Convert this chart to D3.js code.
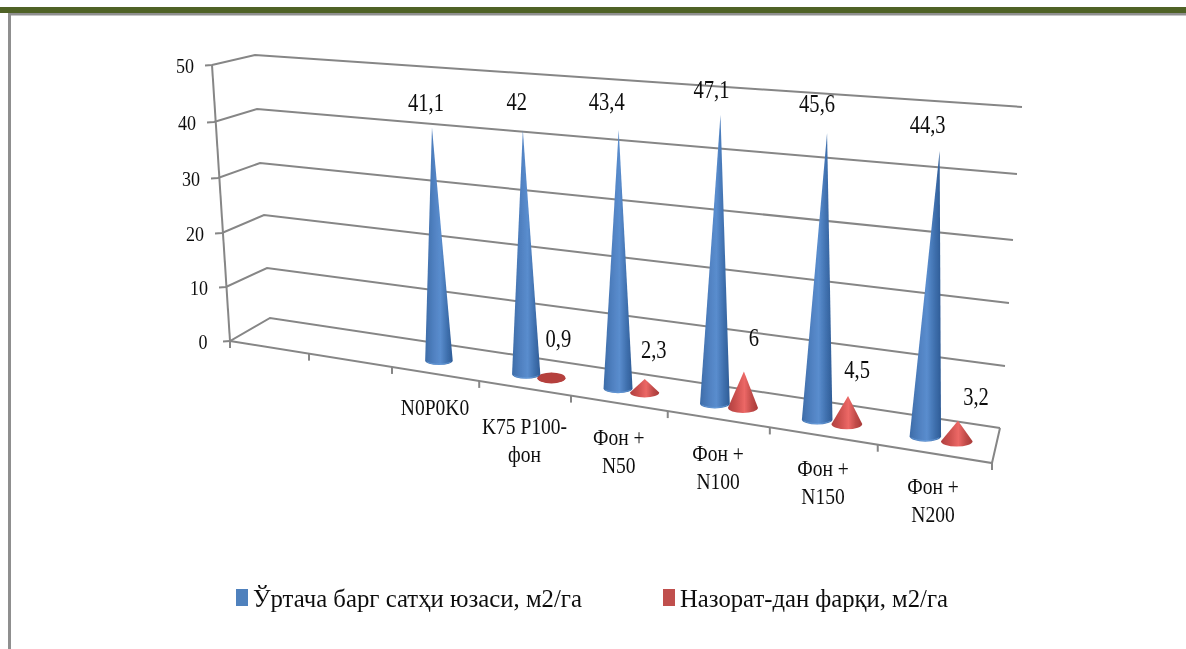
<!DOCTYPE html>
<html>
<head>
<meta charset="utf-8">
<script src="https://cdnjs.cloudflare.com/ajax/libs/d3/7.9.0/d3.min.js"></script>
<style>
html,body{margin:0;padding:0;background:#fff;overflow:hidden}
text{font-family:"Liberation Serif",serif;fill:#111}
</style>
</head>
<body>
<script>
// ---- data ----
const categories = ["", "", "N0P0K0", "K75 P100-|фон", "Фон +|N50", "Фон +|N100", "Фон +|N150", "Фон +|N200"];
const blueValues = [null, null, 41.1, 42, 43.4, 47.1, 45.6, 44.3];
const redValues  = [null, null, null, 0.9, 2.3, 6, 4.5, 3.2];
const yTicks = [0, 10, 20, 30, 40, 50];
const seriesNames = ["Ўртача барг сатҳи юзаси, м2/га", "Назорат-дан фарқи, м2/га"];
const fmt = v => String(v).replace(".", ",");

// ---- layout ----
const W = 1186, H = 649;
const svg = d3.select("body").append("svg").attr("width", W).attr("height", H).style("display","block");
const defs = svg.append("defs");
function grad(id, stops){
  const g = defs.append("linearGradient").attr("id", id).attr("x1","0%").attr("x2","100%").attr("y1","0%").attr("y2","0%");
  stops.forEach(s => g.append("stop").attr("offset", s[0]).attr("stop-color", s[1]));
}
grad("gBlue", [[0,"#3d6ca8"],[.3,"#4f80c0"],[.55,"#5a8dce"],[.8,"#3f70ae"],[1,"#2f5c96"]]);
grad("gRed",  [[0,"#b04040"],[.3,"#cf5250"],[.55,"#ec6866"],[.8,"#bf4a48"],[1,"#a83a38"]]);
defs.append("filter").attr("id","soft").append("feGaussianBlur").attr("stdDeviation",0.55);

// projection: value-edge scales for the chart box corners
const edge = r => d3.scaleLinear().domain(yTicks).range(r);
const backLeftX  = edge([270,267,264,260,257,255]);
const backLeftY  = edge([318,268,215,163,109,55]);
const backRightX = edge([1000,1005,1009,1013,1017,1022]);
const backRightY = edge([428,366,303,240,174,107]);
const frontLeftX = edge([230,226,222,218,214,212]);
const frontLeftY = edge([341,287,233,178,122,65]);
const frontRightX = d3.scaleLinear().domain([0,50]).range([992,1010]);
const frontRightY = d3.scaleLinear().domain([0,50]).range([463,128]);

const band = d3.scaleBand().domain(d3.range(categories.length)).range([0,1]);
const persp = u => u / (u + 1.2346 * (1 - u));   // foreshortening along the x axis
const lerp = d3.interpolateNumber;
function project(u, v, d){
  const t = persp(u);
  const fx = lerp(frontLeftX(v), frontRightX(v))(t), fy = lerp(frontLeftY(v), frontRightY(v))(t);
  const bx = lerp(backLeftX(v), backRightX(v))(t),  by = lerp(backLeftY(v), backRightY(v))(t);
  return [lerp(fx,bx)(d), lerp(fy,by)(d), t];
}
const line = d3.line();
const root = svg.append("g").attr("filter","url(#soft)");

// frame
root.append("rect").attr("x",0).attr("y",7).attr("width",W).attr("height",6).attr("fill","#4f6228");
root.append("rect").attr("x",8).attr("y",13).attr("width",W-8).attr("height",2.5).attr("fill","#8f8f8f");
root.append("rect").attr("x",8).attr("y",13).attr("width",3).attr("height",H-13).attr("fill","#8f8f8f");

// grid & axes
const gridC = "#868686";
const grid = root.append("g").attr("fill","none").attr("stroke",gridC).attr("stroke-width",2);
yTicks.forEach(v => {
  const a = project(0,v,0), b = project(0,v,1), c = project(1,v,1);
  grid.append("path").attr("d", line([[a[0]-7,a[1]+0.5],[a[0],a[1]],[b[0],b[1]],[c[0],c[1]]]));
});
grid.append("path").attr("d", line([project(0,50,0),project(0,0,0)].map(p=>p.slice(0,2))));
grid.append("path").attr("d", line([project(0,0,0),project(1,0,0),project(1,0,1)].map(p=>p.slice(0,2))));
d3.range(categories.length+1).forEach(i => {
  const p = project(i/categories.length,0,0);
  grid.append("path").attr("d", line([[p[0],p[1]],[p[0],p[1]+7]]));
});

// text helper: reference glyphs are horizontally condensed
function stext(g, x, y, str, size, sx){
  return g.append("text").attr("transform",`translate(${x},${y}) scale(${sx},1)`)
    .attr("text-anchor","middle").attr("dominant-baseline","central").attr("font-size",size).text(str);
}
yTicks.forEach(v => {
  const p = project(0,v,0);
  stext(root, p[0]-27, p[1], v, 22, 0.82);
});

// cones
const blueU = i => band(i) + band.bandwidth()*0.38;
const redU  = i => band(i) + band.bandwidth()*0.66;
const depth = 0.45;
function cone(g, u, v, fill, hw0){
  const b = project(u,0,depth), tip = project(u,v,depth);
  const hw = hw0 + 3*b[2], ry = hw*0.34;
  const d = `M${b[0]-hw},${b[1]} L${tip[0]},${tip[1]} L${b[0]+hw},${b[1]} A${hw},${ry} 0 0 1 ${b[0]-hw},${b[1]} Z`;
  g.append("path").attr("d",d).attr("fill",`url(#${fill})`);
  if (fill === "gBlue")
    g.append("path").attr("d",`M${b[0]-hw+2},${b[1]+1.5} A${hw},${ry} 0 0 0 ${b[0]+hw-2},${b[1]+1.5}`)
      .attr("fill","none").attr("stroke","#6ea3e0").attr("stroke-width",1).attr("opacity",.6);
  return tip;
}
const blueShift = [0,0,[-6,-25],[-6,-28],[-12,-28],[-9,-25],[-10,-29],[-12,-26]];
const redShift  = [0,0,0,[7,-34],[9,-29],[10,-34],[9,-26],[18,-24]];
const marks = root.append("g");
categories.forEach((c,i) => {
  if (redValues[i] != null) {
    const u = redU(i), v = redValues[i];
    const tip = cone(marks, u, v, "gRed", 13);
    if (v < 1) {
      const b = project(u,0,depth);
      marks.append("ellipse").attr("cx",b[0]).attr("cy",b[1]).attr("rx",14).attr("ry",5.5).attr("fill","#b5403e");
    }
    stext(root, tip[0]+redShift[i][0], tip[1]+redShift[i][1], fmt(v), 24.5, 0.84);
  }
  if (blueValues[i] != null) {
    const tip = cone(marks, blueU(i), blueValues[i], "gBlue", 13);
    stext(root, tip[0]+blueShift[i][0], tip[1]+blueShift[i][1], fmt(blueValues[i]), 24.5, 0.84);
  }
});

// category labels
const catShift = [0,0,[0,34],[0,38],[0,34],[0,34],[0,33],[-1,33]];
categories.forEach((c,i) => {
  if (!c) return;
  const p = project(band(i)+band.bandwidth()/2,0,0);
  c.split("|").forEach((s,k) => stext(root, p[0]+catShift[i][0], p[1]+catShift[i][1]+k*28, s, 23, 0.85));
});

// legend
const legendX = [236, 663], legendTextX = [253, 680], legendLen = [329, 268], legendFill = ["#4f81bd","#c0504d"];
seriesNames.forEach((s,i) => {
  root.append("rect").attr("x",legendX[i]).attr("y",589).attr("width",12).attr("height",17).attr("fill",legendFill[i]);
  root.append("text").attr("x",legendTextX[i]).attr("y",598).attr("dominant-baseline","central")
    .attr("font-size",26).attr("textLength",legendLen[i]).attr("lengthAdjust","spacingAndGlyphs").text(s);
});
</script>
</body>
</html>
